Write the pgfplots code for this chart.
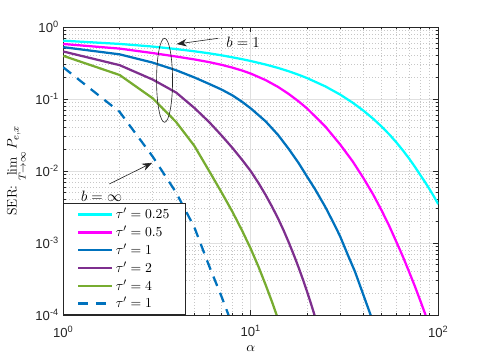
\documentclass[border=0pt]{standalone}
\usepackage{fontspec}
\usepackage{pgfplots}
\pgfplotsset{compat=1.18}
\usetikzlibrary{arrows.meta}
\newfontfamily\ticksf{Liberation Sans}
\definecolor{mcyan}{rgb}{0,1,1}
\definecolor{mmag}{rgb}{1,0,1}
\definecolor{mblue}{rgb}{0,0.447,0.741}
\definecolor{mpurple}{rgb}{0.494,0.184,0.556}
\definecolor{mgreen}{rgb}{0.466,0.674,0.188}
\definecolor{maxis}{rgb}{0.15,0.15,0.15}

\begin{document}
\begin{tikzpicture}
\begin{axis}[
    scale only axis, width=300pt, height=230.4pt,
    xmode=log, ymode=log,
    xmin=1, xmax=100, ymin=1e-4, ymax=1,
    xtick={1,10,100},
    xticklabels={10\textsuperscript{0},10\textsuperscript{1},10\textsuperscript{2}},
    ytick={1e-4,1e-3,1e-2,1e-1,1},
    yticklabels={10\textsuperscript{-4},10\textsuperscript{-3},10\textsuperscript{-2},10\textsuperscript{-1},10\textsuperscript{0}},
    minor xtick={2,3,4,5,6,7,8,9,20,30,40,50,60,70,80,90},
    minor ytick={2e-4,3e-4,4e-4,5e-4,6e-4,7e-4,8e-4,9e-4,
                 2e-3,3e-3,4e-3,5e-3,6e-3,7e-3,8e-3,9e-3,
                 2e-2,3e-2,4e-2,5e-2,6e-2,7e-2,8e-2,9e-2,
                 0.2,0.3,0.4,0.5,0.6,0.7,0.8,0.9},
    tick label style={font=\ticksf\fontsize{10.5}{12}\selectfont, text=maxis},
    xticklabel style={yshift=-5pt},
    grid=both,
    major grid style={black!12, line width=0.5pt},
    minor grid style={black!22, dotted, line width=0.5pt},
    axis line style={maxis, line width=0.5pt},
    tick style={maxis, line width=0.5pt},
    major tick length=4pt, minor tick length=2pt,
    xlabel={$\alpha$},
    ylabel={SER: $\lim\limits_{T\to\infty} P_{e,x}$},
    label style={font=\fontsize{11}{13}\selectfont},
    legend style={at={(0,0)}, anchor=south west, draw=maxis, line width=0.5pt,
        fill=white, font=\fontsize{11}{13}\selectfont,
        inner xsep=11pt, inner ysep=2pt, row sep=0.3pt},
    legend cell align=left,
    legend image code/.code={\draw[#1] (0pt,0pt) -- (27pt,0pt);},
]
% b = 1
\addplot[mcyan, line width=1.8pt] coordinates {
(1,0.6457) (2,0.582) (3,0.535) (4,0.494) (5,0.460) (6,0.431) (7,0.404) (8,0.379)
(9,0.357) (10,0.337) (12,0.301) (14,0.270) (16,0.242) (18,0.217) (20,0.195)
(25,0.1496) (30,0.1151) (35,0.0887) (40,0.0686) (45,0.0531) (50,0.0412)
(55,0.0319) (60,0.0247) (65,0.0191) (70,0.01483) (75,0.01148) (80,0.00889)
(85,0.00703) (90,0.00555) (95,0.00439) (100,0.00346)};
\addlegendentry{$\tau'=0.25$}
\addplot[mmag, line width=1.8pt] coordinates {
(1,0.581) (2,0.501) (3,0.4345) (4,0.389) (5,0.3548) (6,0.3251) (7,0.2979)
(8,0.2723) (9,0.2483) (10,0.2254) (12,0.1832) (14,0.1469) (16,0.1167)
(18,0.0927) (20,0.0736) (25,0.0414) (30,0.0233) (35,0.01355) (40,0.00789)
(45,0.00470) (50,0.00280) (55,0.001687) (60,0.001016) (65,6.34e-4)
(70,3.95e-4) (75,2.52e-4) (80,1.61e-4) (85,1.05e-4) (90,6.87e-5)};
\addlegendentry{$\tau'=0.5$}
\addplot[mblue, line width=1.8pt] coordinates {
(1,0.525) (2,0.417) (3,0.320) (4,0.251) (5,0.1995) (6,0.162) (7,0.135) (8,0.112)
(9,0.0912) (10,0.0741) (12,0.0490) (14,0.0316) (16,0.0200) (18,0.0129)
(20,0.00832) (22,0.00562) (25,0.00316) (28,0.00178) (30,0.00123) (33,6.76e-4)
(36,3.98e-4) (40,1.86e-4) (44,9.33e-5)};
\addlegendentry{$\tau'=1$}
\addplot[mpurple, line width=1.8pt] coordinates {
(1,0.457) (2,0.295) (3,0.1862) (4,0.1230) (5,0.0753) (6,0.0478) (7,0.0310)
(8,0.0208) (9,0.01426) (10,0.00995) (11,0.00681) (12,0.00466) (13,0.00318)
(14,0.00218) (15,0.00148) (16,1.0e-3) (17,6.76e-4) (18,4.57e-4) (19,3.09e-4)
(20,2.09e-4) (21,1.41e-4) (22,9.55e-5) (23,6.46e-5)};
\addlegendentry{$\tau'=2$}
\addplot[mgreen, line width=1.8pt] coordinates {
(1,0.398) (2,0.2153) (3,0.1023) (4,0.0479) (5,0.0224) (6,0.01) (7,0.00501)
(8,0.00269) (9,0.00148) (10,8.32e-4) (11,4.68e-4) (12,2.63e-4) (13,1.51e-4)
(14,8.71e-5)};
\addlegendentry{$\tau'=4$}
% b = infinity
\addplot[mblue, line width=1.8pt, dash pattern=on 8pt off 6pt] coordinates {
(1,0.2754) (2,0.0661) (3,0.01585) (4,0.00501) (5,0.00166) (6,4.79e-4)
(7,1.78e-4) (8,7.08e-5)};
\addlegendentry{$\tau'=1$}

\draw[maxis, line width=0.5pt] (axis cs:3.47,0.182) ellipse [x radius=6.4pt, y radius=33.6pt];
\draw[maxis, line width=0.5pt, -{Stealth[length=8pt,width=6pt]}]
    (axis cs:6.71,0.697) -- (axis cs:4.03,0.58);
\node[font=\fontsize{12.5}{14}\selectfont] at (axis cs:9.1,0.619) {$b=1$};
\draw[maxis, line width=0.5pt, -{Stealth[length=8pt,width=6pt]}]
    (axis cs:1.76,0.0066) -- (axis cs:2.98,0.013);
\node[font=\fontsize{12.5}{14}\selectfont] at (axis cs:1.60,0.0044) {$b=\infty$};
\end{axis}
\path ([xshift=-50.6pt,yshift=-38.4pt]current axis.south west)
    rectangle ([xshift=37.4pt,yshift=21.6pt]current axis.north east);
\end{tikzpicture}
\end{document}
